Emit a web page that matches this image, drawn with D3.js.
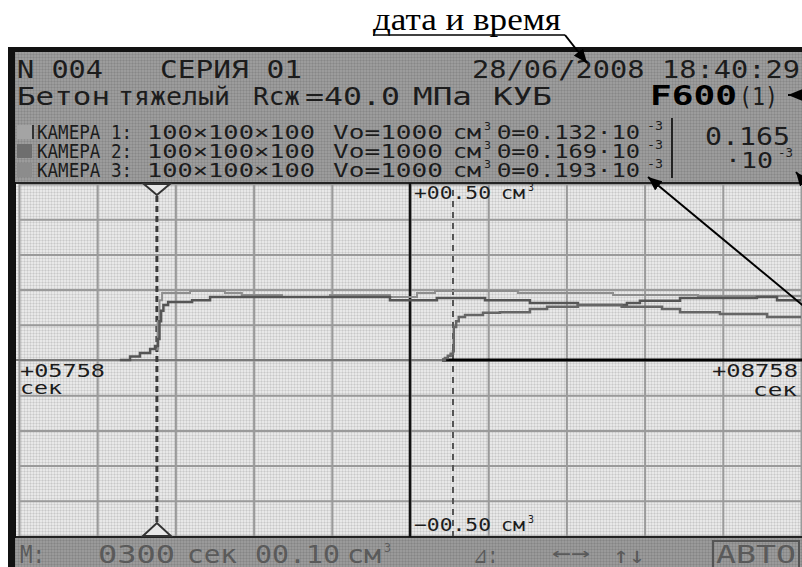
<!DOCTYPE html>
<html>
<head>
<meta charset="utf-8">
<script src="https://cdn.jsdelivr.net/npm/d3@7"></script>
<style>
  html, body { margin: 0; padding: 0; background: #fff; }
  svg { display: block; }
</style>
</head>
<body>
<div id="chart"></div>
<script>
// ---- data ----
const timeDomain = [5758, 8758];      // сек
const volDomain = [-0.5, 0.5];        // см³
const timeStep = 300;
const volStep = 0.1;
const cursors = [6287, 7423];

const cameraNames = ['КАМЕРА 1', 'КАМЕРА 2', 'КАМЕРА 3'];
const cameraSizes = ['100×100×100', '100×100×100', '100×100×100'];
const cameraVo = [1000, 1000, 1000];
const thetas = [0.132, 0.169, 0.193];

// [time, volume]
const seriesA = [[6283, 0.03], [6290, 0.11], [6297, 0.17], [6307, 0.19], [6414, 0.196], [6548, 0.19],
  [6613, 0.185], [6767, 0.179], [6951, 0.185], [7181, 0.179], [7285, 0.19], [7354, 0.196],
  [7672, 0.19], [8037, 0.185], [8363, 0.182], [8758, 0.18]];
const seriesB = [[6145, 0], [6184, 0.01], [6222, 0.02], [6261, 0.031], [6280, 0.04], [6291, 0.06],
  [6297, 0.11], [6303, 0.14], [6312, 0.156], [6330, 0.165], [6422, 0.17], [6491, 0.179],
  [7181, 0.17], [7361, 0.176], [7546, 0.17], [7718, 0.162], [7902, 0.156], [8090, 0.162],
  [8140, 0.168], [8294, 0.176], [8589, 0.179], [8666, 0.17], [8758, 0.17]];
const seriesC = [[7381, 0], [7392, 0.006], [7403, 0.012], [7414, 0.018], [7423, 0.025], [7426, 0.094],
  [7435, 0.11], [7445, 0.122], [7469, 0.128], [7538, 0.134], [7603, 0.136], [7718, 0.145],
  [7784, 0.151], [7902, 0.156], [8070, 0.151], [8225, 0.145], [8294, 0.136], [8447, 0.131],
  [8628, 0.122], [8758, 0.122]];

const W = 802, H = 567;
const LCD = 'DejaVu Sans Mono, monospace';

const svg = d3.select('#chart').append('svg').attr('width', W).attr('height', H);

// LCD pixel texture
const defs = svg.append('defs');
const pat = defs.append('pattern').attr('id', 'lcd').attr('width', 3).attr('height', 3)
  .attr('patternUnits', 'userSpaceOnUse');
pat.append('rect').attr('width', 3).attr('height', 1).attr('fill', 'rgba(0,0,0,0.07)');
pat.append('rect').attr('width', 1).attr('height', 3).attr('fill', 'rgba(0,0,0,0.07)');
defs.append('marker').attr('id', 'arrow').attr('viewBox', '0 -5 12 10')
  .attr('refX', 12).attr('refY', 0).attr('markerWidth', 14).attr('markerHeight', 12)
  .attr('markerUnits', 'userSpaceOnUse').attr('orient', 'auto')
  .append('path').attr('d', 'M0,-5L12,0L0,5Z').attr('fill', '#000');

// helper for stretched LCD text
function lcdText(g, str, x, y, w, size, opts = {}) {
  const t = g.append('text').attr('x', x).attr('y', y)
    .style('font-family', LCD).style('font-size', size + 'px')
    .attr('fill', opts.fill || '#1c1c1c')
    .style('font-weight', opts.bold ? 'bold' : 'normal')
    .attr('text-anchor', opts.anchor || 'start')
    .text(str);
  if (w) t.attr('textLength', w).attr('lengthAdjust', 'spacingAndGlyphs');
  return t;
}

// ---- screen frame ----
svg.append('rect').attr('x', 8).attr('y', 47).attr('width', W - 8).attr('height', H - 47).attr('fill', '#111');
svg.append('rect').attr('x', 15).attr('y', 52).attr('width', W - 15).attr('height', 130).attr('fill', '#9c9c9c');
svg.append('rect').attr('x', 16).attr('y', 183).attr('width', W - 16).attr('height', 353).attr('fill', '#e8e8e8');
svg.append('rect').attr('x', 15).attr('y', 538).attr('width', W - 15).attr('height', H - 538).attr('fill', '#9a9a9a');
svg.append('rect').attr('x', 15).attr('y', 52).attr('width', W - 15).attr('height', H - 52).attr('fill', 'url(#lcd)');

// ---- header ----
const head = svg.append('g');
lcdText(head, 'N 004', 17, 78, 86, 25);
lcdText(head, 'СЕРИЯ 01', 160, 78, 142, 25);
lcdText(head, '28/06/2008 18:40:29', 472, 78, 328, 25);
lcdText(head, 'Бетон', 17, 105, 93, 25);
lcdText(head, 'тяжелый', 118, 105, 112, 25);
lcdText(head, 'Rсж', 253, 105, 47, 25);
lcdText(head, '=40.0', 305, 105, 95, 25);
lcdText(head, 'МПа', 413, 105, 59, 25);
lcdText(head, 'КУБ', 493, 105, 59, 25);
lcdText(head, 'F600', 650, 105, 87, 26, { bold: true, fill: '#000' });
lcdText(head, '(1)', 739, 105, 39, 25);

const swatchFill = ['#a4a4a4', '#6e6e6e', '#8c8c8c'];
const rowY = [139, 158, 177];
const fmt3 = d3.format('.3f');
cameraNames.forEach((name, i) => {
  const yb = rowY[i];
  head.append('rect').attr('x', 17).attr('y', yb - 14).attr('width', 15).attr('height', 14).attr('fill', swatchFill[i]);
  if (i === 0) head.append('rect').attr('x', 32).attr('y', yb - 14).attr('width', 2).attr('height', 14).attr('fill', '#333');
  lcdText(head, name + ':', 37, yb, 95, 19);
  lcdText(head, cameraSizes[i], 147, yb, 168, 19);
  lcdText(head, 'Vo=' + cameraVo[i], 333, yb, 110, 19);
  lcdText(head, 'см', 453, yb, 28, 19);
  lcdText(head, '3', 484, yb - 9, 7, 11);
  lcdText(head, 'Θ=' + fmt3(thetas[i]) + '·10', 497, yb, 143, 19);
  lcdText(head, '-3', 647, yb - 9, 16, 12);
});
head.append('line').attr('x1', 672).attr('x2', 672).attr('y1', 118).attr('y2', 178)
  .attr('stroke', '#222').attr('stroke-width', 2);
lcdText(head, fmt3(d3.mean(thetas)), 705, 145, 85, 25);
lcdText(head, '·10', 725, 168, 48, 22);
lcdText(head, '-3', 778, 157, 15, 13);

// ---- plot ----
const x = d3.scaleLinear().domain(timeDomain).range([19, 801]);
const y = d3.scaleLinear().domain(volDomain).range([536, 184]);
const plot = svg.append('g');

const xTicks = d3.range(timeDomain[0], timeDomain[1] + 1, timeStep);
const yTicks = d3.range(0, 11).map(i => volDomain[0] + i * volStep);

plot.append('g').attr('transform', 'translate(0,184)')
  .call(d3.axisTop(x).tickValues(xTicks).tickSize(-352).tickFormat(''))
  .call(g => g.select('.domain').remove())
  .selectAll('line').attr('stroke', '#9a9a9a').attr('stroke-width', 2);
plot.append('g').attr('transform', 'translate(19,0)')
  .call(d3.axisLeft(y).tickValues(yTicks).tickSize(-782).tickFormat(''))
  .call(g => g.select('.domain').remove())
  .selectAll('line').attr('stroke', '#9a9a9a').attr('stroke-width', 2);

// plot frame lines
plot.append('line').attr('x1', 16).attr('x2', W).attr('y1', 183).attr('y2', 183).attr('stroke', '#222').attr('stroke-width', 2);
plot.append('line').attr('x1', 16).attr('x2', W).attr('y1', 537).attr('y2', 537).attr('stroke', '#222').attr('stroke-width', 2);
plot.append('line').attr('x1', 16).attr('x2', W).attr('y1', y(0)).attr('y2', y(0)).attr('stroke', '#7a7a7a').attr('stroke-width', 2);

// centre volume axis
const xMid = x((timeDomain[0] + timeDomain[1]) / 2);
plot.append('line').attr('x1', xMid).attr('x2', xMid).attr('y1', 183).attr('y2', 537)
  .attr('stroke', '#111').attr('stroke-width', 2.5);

// cursors
plot.append('line').attr('x1', x(cursors[0])).attr('x2', x(cursors[0])).attr('y1', 186).attr('y2', 534)
  .attr('stroke', '#3a3a3a').attr('stroke-width', 3).attr('stroke-dasharray', '6,4');
plot.append('line').attr('x1', x(cursors[1])).attr('x2', x(cursors[1])).attr('y1', 190).attr('y2', 536)
  .attr('stroke', '#555').attr('stroke-width', 2).attr('stroke-dasharray', '6,5');
const cx = x(cursors[0]);
plot.append('path').attr('d', `M${cx - 13},184L${cx + 13},184L${cx},195Z`)
  .attr('fill', '#e8e8e8').attr('stroke', '#333').attr('stroke-width', 2);
plot.append('path').attr('d', `M${cx - 14},536L${cx + 14},536L${cx},523Z`)
  .attr('fill', '#e8e8e8').attr('stroke', '#333').attr('stroke-width', 2);

// baseline of the second run
plot.append('line').attr('x1', x(seriesC[0][0])).attr('x2', W).attr('y1', y(0)).attr('y2', y(0))
  .attr('stroke', '#000').attr('stroke-width', 3);

// curves
const line = d3.line().x(d => x(d[0])).y(d => y(d[1])).curve(d3.curveStepAfter);
[[seriesA, '#8e8e8e', 2], [seriesB, '#555', 2.5], [seriesC, '#666', 2.5]].forEach(([data, col, sw]) => {
  plot.append('path').datum(data).attr('d', line)
    .attr('fill', 'none').attr('stroke', col).attr('stroke-width', sw);
});

// axis labels
const fmtVol = d3.format('+06.2f');
const fmtTime = d3.format('+06d');
lcdText(plot, fmtVol(volDomain[1]), xMid + 4, 199, 77, 18);
lcdText(plot, 'см', xMid + 91, 199, 24, 18);
lcdText(plot, '3', xMid + 118, 191, 6, 10);
lcdText(plot, fmtVol(volDomain[0]), xMid + 4, 531, 77, 18);
lcdText(plot, 'см', xMid + 91, 531, 24, 18);
lcdText(plot, '3', xMid + 118, 523, 6, 10);
lcdText(plot, fmtTime(timeDomain[0]), 20, 377, 85, 17);
lcdText(plot, 'сек', 20, 394, 42, 17);
lcdText(plot, fmtTime(timeDomain[1]), 798, 377, 86, 17, { anchor: 'end' });
lcdText(plot, 'сек', 797, 396, 44, 17, { anchor: 'end' });

// ---- bottom status bar ----
const bar = svg.append('g');
const dim = { fill: '#5a5a5a' };
lcdText(bar, 'M:', 20, 563, 25, 25, dim);
lcdText(bar, d3.format('04d')(timeStep), 98, 563, 77, 25, dim);
lcdText(bar, 'сек', 187, 563, 50, 25, dim);
lcdText(bar, d3.format('05.2f')(volStep), 255, 563, 85, 25, dim);
lcdText(bar, 'см', 347, 563, 34, 25, dim);
lcdText(bar, '3', 384, 552, 7, 12, dim);
lcdText(bar, '⊿:', 473, 563, 25, 23, dim);
lcdText(bar, '←→', 552, 560, 38, 21, dim);
lcdText(bar, '↑↓', 613, 563, 32, 23, dim);
bar.append('rect').attr('x', 713).attr('y', 541).attr('width', 86).attr('height', 30)
  .attr('fill', 'none').attr('stroke', '#555').attr('stroke-width', 2);
lcdText(bar, 'АВТО', 716, 563, 80, 25, dim);

// ---- annotations ----
const ann = svg.append('g');
ann.append('text').attr('x', 373).attr('y', 30)
  .style('font-family', 'Liberation Serif, Times New Roman, serif').style('font-size', '31px')
  .attr('textLength', 188).attr('lengthAdjust', 'spacingAndGlyphs')
  .text('дата и время');
ann.append('line').attr('x1', 373).attr('x2', 565).attr('y1', 35).attr('y2', 35).attr('stroke', '#000').attr('stroke-width', 1.5);
[[565, 35, 587, 63], [820, 95, 788, 95], [818, 200, 796, 172], [818, 318, 648, 177]].forEach(a => {
  ann.append('line').attr('x1', a[0]).attr('y1', a[1]).attr('x2', a[2]).attr('y2', a[3])
    .attr('stroke', '#000').attr('stroke-width', 2).attr('marker-end', 'url(#arrow)');
});
</script>
</body>
</html>
